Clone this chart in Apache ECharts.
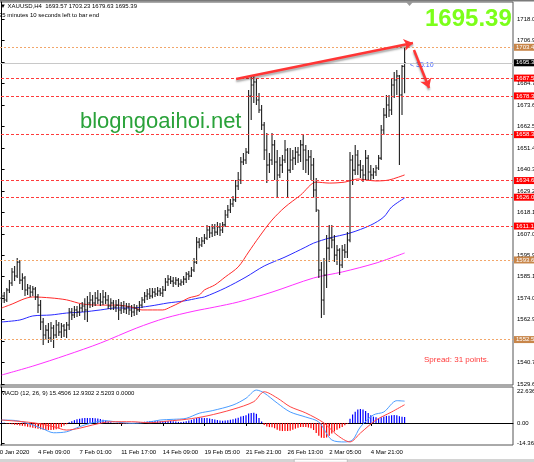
<!DOCTYPE html>
<html><head><meta charset="utf-8">
<script src="https://cdn.jsdelivr.net/npm/echarts@6/dist/echarts.min.js"></script>
<style>html,body{margin:0;padding:0;background:#fff}#c{width:534px;height:462px}</style>
</head><body><div id="c"></div>
<script>
// ---- OHLC bars (XAUUSD H4) ----
const open = [1573.9,1575.0,1572.9,1578.1,1581.7,1587.4,1585.3,1592.5,1583.2,1584.3,
1578.1,1579.1,1577.0,1578.6,1574.5,1570.3,1561.6,1554.9,1557.4,1553.3,
1558.5,1554.9,1560.0,1556.4,1559.5,1557.4,1560.0,1566.7,1565.2,1567.8,
1566.7,1568.8,1569.8,1567.8,1571.4,1572.9,1571.4,1573.9,1572.9,1571.9,
1574.5,1572.9,1569.8,1571.4,1569.3,1570.3,1567.8,1569.8,1568.3,1569.3,
1567.8,1566.7,1568.8,1567.8,1570.3,1572.9,1575.0,1576.0,1575.0,1577.0,
1576.0,1577.6,1576.5,1578.1,1582.2,1583.7,1582.7,1581.7,1583.2,1581.2,
1582.2,1583.7,1586.3,1585.3,1588.4,1592.5,1602.8,1601.3,1603.4,1604.9,
1609.1,1607.5,1610.1,1608.0,1610.6,1609.1,1611.7,1616.8,1619.4,1622.5,
1624.6,1631.8,1634.9,1644.2,1645.2,1649.3,1678.2,1683.9,1685.5,1676.2,
1671.0,1663.3,1650.4,1642.6,1645.2,1653.0,1644.2,1637.5,1642.6,1645.2,
1650.4,1640.0,1645.2,1646.2,1649.3,1647.8,1653.0,1650.4,1645.2,1646.8,
1642.6,1629.7,1619.4,1588.4,1572.9,1585.8,1599.7,1604.9,1603.9,1596.1,
1598.7,1591.0,1598.7,1597.7,1603.9,1645.2,1640.0,1647.8,1642.6,1640.0,
1637.5,1646.2,1639.0,1637.5,1639.0,1641.1,1646.2,1660.7,1668.4,1673.6,
1671.0,1683.9,1686.5,1688.6,1678.8,1693.57];
const high = [1576.5,1577.0,1579.1,1583.2,1589.4,1590.5,1594.6,1593.6,1586.8,1585.3,
1581.2,1580.7,1580.1,1579.6,1576.0,1572.9,1563.6,1560.0,1561.1,1561.6,
1560.0,1562.6,1561.6,1561.1,1560.5,1561.6,1568.8,1568.8,1569.8,1569.8,
1570.9,1571.9,1573.9,1575.0,1577.0,1575.5,1577.0,1578.1,1576.5,1578.1,
1577.0,1575.5,1573.9,1572.9,1572.9,1573.4,1571.9,1572.4,1571.4,1571.4,
1570.3,1570.9,1570.3,1572.4,1574.5,1577.0,1578.6,1579.1,1579.1,1579.1,
1579.6,1579.1,1580.1,1584.3,1585.8,1585.3,1584.8,1584.8,1584.3,1583.7,
1585.3,1587.4,1587.9,1590.0,1594.6,1605.4,1604.9,1605.4,1607.0,1611.7,
1611.2,1612.2,1612.2,1613.2,1612.7,1613.2,1619.4,1622.0,1625.1,1626.6,
1634.9,1639.0,1646.8,1648.8,1651.4,1681.3,1688.1,1689.1,1687.5,1679.8,
1673.6,1664.8,1659.1,1648.8,1659.1,1655.5,1650.4,1646.8,1647.8,1655.5,
1651.4,1651.4,1650.4,1651.9,1651.9,1655.5,1658.1,1653.0,1650.4,1650.4,
1646.2,1635.9,1619.4,1592.5,1594.6,1606.5,1611.7,1611.7,1606.5,1601.3,
1599.7,1601.3,1601.8,1608.0,1649.3,1647.8,1653.0,1650.4,1645.2,1642.6,
1650.4,1647.8,1642.6,1641.1,1642.6,1647.8,1663.3,1672.1,1678.8,1678.8,
1687.5,1690.6,1691.7,1689.1,1694.2,1703.23];
const low = [1571.4,1571.4,1571.9,1576.5,1580.1,1582.7,1584.3,1581.2,1578.1,1575.0,
1575.5,1574.5,1575.0,1572.9,1566.2,1557.4,1549.7,1552.3,1550.7,1551.2,
1548.1,1553.3,1554.3,1553.3,1553.8,1553.3,1557.4,1562.6,1563.6,1564.1,
1564.7,1566.7,1562.6,1561.6,1568.8,1569.3,1569.8,1570.9,1569.8,1570.3,
1570.9,1568.3,1567.8,1567.8,1566.7,1562.6,1565.7,1566.2,1565.7,1565.2,
1564.1,1564.7,1565.2,1566.7,1568.8,1571.4,1572.9,1573.4,1573.9,1574.5,
1575.0,1575.0,1574.5,1577.6,1580.1,1581.2,1579.6,1580.7,1579.6,1580.1,
1580.7,1581.7,1583.2,1584.8,1587.4,1591.5,1599.7,1600.3,1601.8,1603.9,
1604.9,1605.4,1606.0,1606.5,1606.0,1607.5,1610.6,1615.3,1617.8,1620.9,
1623.5,1629.7,1632.8,1642.6,1643.1,1648.3,1665.9,1674.6,1673.6,1669.5,
1660.7,1645.2,1633.3,1638.5,1642.6,1634.9,1626.1,1635.9,1638.5,1643.7,
1626.1,1638.5,1640.0,1642.6,1643.7,1644.2,1640.0,1638.5,1637.5,1634.9,
1625.6,1618.3,1584.3,1563.6,1565.2,1579.1,1592.5,1599.7,1592.5,1591.0,
1585.8,1589.4,1594.6,1594.6,1602.8,1632.3,1637.5,1637.5,1635.9,1633.8,
1634.9,1634.9,1634.9,1635.4,1636.9,1640.0,1645.2,1658.1,1666.9,1667.4,
1668.4,1677.2,1678.8,1642.6,1668.4,1679.63];
const close = [1575.0,1572.9,1578.1,1581.7,1587.4,1585.3,1592.5,1583.2,1584.3,1578.1,
1579.1,1577.0,1578.6,1574.5,1570.3,1561.6,1554.9,1557.4,1553.3,1558.5,
1554.9,1560.0,1556.4,1559.5,1557.4,1560.0,1566.7,1565.2,1567.8,1566.7,
1568.8,1569.8,1567.8,1571.4,1572.9,1571.4,1573.9,1572.9,1571.9,1574.5,
1572.9,1569.8,1571.4,1569.3,1570.3,1567.8,1569.8,1568.3,1569.3,1567.8,
1566.7,1568.8,1567.8,1570.3,1572.9,1575.0,1576.0,1575.0,1577.0,1576.0,
1577.6,1576.5,1578.1,1582.2,1583.7,1582.7,1581.7,1583.2,1581.2,1582.2,
1583.7,1586.3,1585.3,1588.4,1592.5,1602.8,1601.3,1603.4,1604.9,1609.1,
1607.5,1610.1,1608.0,1610.6,1609.1,1611.7,1616.8,1619.4,1622.5,1624.6,
1631.8,1634.9,1644.2,1645.2,1649.3,1678.2,1683.9,1685.5,1676.2,1671.0,
1663.3,1650.4,1642.6,1645.2,1653.0,1644.2,1637.5,1642.6,1645.2,1650.4,
1640.0,1645.2,1646.2,1649.3,1647.8,1653.0,1650.4,1645.2,1646.8,1642.6,
1629.7,1619.4,1588.4,1572.9,1585.8,1599.7,1604.9,1603.9,1596.1,1598.7,
1591.0,1598.7,1597.7,1603.9,1645.2,1640.0,1647.8,1642.6,1640.0,1637.5,
1646.2,1639.0,1637.5,1639.0,1641.1,1646.2,1660.7,1668.4,1673.6,1671.0,
1683.9,1686.5,1688.6,1678.8,1693.57,1695.39];

// ---- moving averages read at sample bars [barIndex, price] ----
const maRed = [[0,1568.8],[3,1570.3],[12,1574.5],[19,1574.0],[25,1573.0],[31,1570.9],[38,1570.3],[44,1570.3],[50,1569.3],[54,1567.8],[58,1567.8],[62,1567.8],[65,1569.3],[69,1571.9],[72,1574.0],[76,1575.5],[78,1578.1],[82,1580.7],[86,1584.8],[91,1590.0],[95,1597.7],[99,1605.4],[104,1614.2],[109,1620.9],[115,1627.1],[121,1633.8],[126,1633.3],[132,1633.8],[137,1635.4],[144,1634.4],[149,1634.9],[155,1637.5]];
const maBlue = [[0,1561.6],[7,1562.6],[12,1564.7],[19,1565.2],[25,1566.2],[31,1566.7],[38,1567.8],[44,1568.8],[50,1568.8],[57,1569.8],[64,1571.4],[70,1572.4],[76,1574.0],[78,1574.5],[86,1579.1],[94,1584.8],[101,1590.5],[109,1595.1],[117,1600.3],[120,1602.3],[126,1604.9],[134,1607.5],[142,1611.6],[147,1615.8],[150,1620.9],[155,1625.6]];
const maMagenta = [[0,1534.2],[12,1538.8],[25,1544.5],[38,1550.7],[52,1558.5],[63,1563.6],[74,1567.2],[82,1569.3],[91,1571.9],[104,1577.0],[120,1584.3],[131,1587.4],[144,1592.0],[155,1597.2]];

// ---- MACD (12,26,9) ----
const macdHist = [0.4,0.2,-0.3,-0.6,-0.9,-1.2,-1.4,-1.7,-2.0,-2.3,
-2.7,-3.0,-3.3,-3.7,-4.0,-4.4,-4.7,-4.9,-5.0,-5.0,
-4.8,-4.4,-3.7,-2.8,-1.8,-0.8,0.5,1.3,2.0,2.6,
3.0,3.3,3.5,3.5,3.6,3.5,3.4,3.2,2.8,2.3,
1.7,1.1,0.5,0.1,-0.2,-0.4,-0.5,-0.5,-0.4,-0.3,
-0.2,0.0,0.2,0.4,0.6,0.9,1.1,1.3,1.4,1.4,
1.3,1.2,1.2,1.4,1.5,1.4,1.2,1.0,0.8,0.7,
0.8,1.2,1.8,2.3,2.8,3.6,3.8,3.7,3.5,3.5,
3.2,2.9,2.5,2.1,1.8,1.6,1.7,2.0,2.3,2.7,
3.2,3.8,4.6,5.0,5.5,6.8,7.0,7.2,6.5,3.5,
1.0,-1.5,-2.5,-2.9,-3.0,-3.8,-4.8,-5.4,-5.7,-5.6,
-5.7,-5.4,-4.8,-4.0,-3.3,-2.9,-2.8,-2.9,-3.2,-3.8,
-5.0,-7.0,-9.0,-10.4,-10.6,-10.2,-9.0,-7.5,-6.0,-4.8,
-3.8,-2.8,-1.6,-0.5,3.0,6.0,8.0,9.5,9.9,9.6,
8.5,7.0,5.5,4.5,4.0,3.6,4.0,4.6,5.0,5.2,
5.5,5.6,5.4,4.8,4.5,4.2];
const macdMain = [[0,2.1],[6,1.6],[12,-1.4],[16,-4.2],[20,-6.9],[25,-6.2],[30,-2.6],[35,0.2],[40,1.6],[45,0.5],[50,-0.2],[56,0.5],[61,2.1],[66,2.6],[71,3.3],[76,6.9],[81,8.7],[89,12.7],[94,17.5],[98,23.3],[101,21.2],[106,14.1],[111,7.8],[117,4.2],[122,0.7],[127,-12.0],[132,-13.4],[135,-12.0],[138,-2.8],[143,5.7],[147,7.8],[152,15.8],[155,15.45]];
const macdSignal = [[0,2.1],[12,0.2],[20,-2.6],[25,-5.0],[30,-3.7],[35,-1.4],[42,0.9],[50,0.9],[57,0.2],[64,1.4],[71,2.6],[79,5.0],[89,9.7],[97,15.1],[101,22.1],[106,17.7],[111,11.5],[117,7.1],[124,0.0],[129,-8.5],[134,-13.4],[138,-7.1],[144,2.1],[150,7.8],[155,12.93]];

// ---- levels, ticks, labels ----
const redLevels = [1687.5, 1678.3, 1658.3, 1634.6, 1626.0, 1611.1];
const orangeLevels = [1703.4, 1593.6, 1552.5];
const lastPrice = 1695.39;
const priceTicks = [1529.6,1540.7,1551.8,1562.9,1574.0,1585.1,1595.9,1607.0,1618.1,1629.2,1640.3,1651.4,1662.5,1673.6,1684.7,1695.8,1706.9,1718.0];
const macdTicks = [-14.367, 0, 22.636];
const macdTickText = ['-14.367', '0.00', '22.636'];
const dateTicks = [-2, 14, 30, 46, 62, 78, 94, 110, 126, 142];
const dateLabels = ['30 Jan 2020','4 Feb 09:00','7 Feb 01:00','11 Feb 17:00','14 Feb 09:00','19 Feb 05:00','21 Feb 21:00','26 Feb 13:00','2 Mar 05:00','4 Mar 21:00'];
// annotation arrows [barIndex, value]
const priceArrowUp = [[90.2, 1687.0], [158.2, 1705.6]];
const priceArrowDown = [[158.6, 1702.0], [164.4, 1682.4]];
const macdArrow = [[94.4, 25.8], [160.5, 15.2]];

const FONT = 'Liberation Sans, Arial, sans-serif';
const XMIN = -2.154, XMAX = 196.69;

const chart = echarts.init(document.getElementById('c'), null, {renderer: 'canvas'});

const ohlcData = open.map((o, i) => [i, o, high[i], low[i], close[i]]);
const histData = macdHist.map((v, i) => [i, v]);

function ohlcItem(params, api) {
  const x = api.value(0);
  const po = api.coord([x, api.value(1)]);
  const ph = api.coord([x, api.value(2)]);
  const pl = api.coord([x, api.value(3)]);
  const pc = api.coord([x, api.value(4)]);
  const st = {stroke: '#1e1e1e', lineWidth: 1.1};
  return {type: 'group', children: [
    {type: 'line', shape: {x1: ph[0], y1: ph[1], x2: pl[0], y2: pl[1]}, style: st},
    {type: 'line', shape: {x1: po[0] - 1.2, y1: po[1], x2: po[0], y2: po[1]}, style: st},
    {type: 'line', shape: {x1: pc[0], y1: pc[1], x2: pc[0] + 1.2, y2: pc[1]}, style: st}
  ]};
}
function histItem(params, api) {
  const x = api.value(0), v = api.value(1);
  const p0 = api.coord([x, 0]), p1 = api.coord([x, v]);
  return {type: 'rect', shape: {x: p0[0] - 0.6, y: Math.min(p0[1], p1[1]), width: 1.2, height: Math.abs(p1[1] - p0[1])},
    style: {fill: v >= 0 ? '#0000ff' : '#ff0000'}};
}
function levelLine(v, color, dash, bg) {
  return {yAxis: v, lineStyle: {color: color, type: dash, width: 1},
    label: {show: true, position: 'end', distance: 1, formatter: v.toFixed(1), color: '#fff', backgroundColor: bg,
      fontSize: 6, fontFamily: FONT, padding: [1, 3, 0, 2]}};
}
const arrowStyle = {color: '#ff3535', width: 2.5, type: 'solid', shadowColor: 'rgba(0,0,0,0.35)', shadowBlur: 2, shadowOffsetY: 2};

const option = {
  animation: false,
  backgroundColor: '#ffffff',
  grid: [
    {left: -4, top: 2, width: 517, height: 383, show: true, borderColor: '#555', borderWidth: 1, outerBoundsMode: 'none', containLabel: false},
    {left: -4, top: 387, width: 517, height: 58, show: true, borderColor: '#555', borderWidth: 1, outerBoundsMode: 'none', containLabel: false}
  ],
  xAxis: [
    {gridIndex: 0, type: 'value', min: XMIN, max: XMAX, show: false},
    {gridIndex: 1, type: 'value', min: XMIN, max: XMAX, splitLine: {show: false},
      axisLine: {show: true, lineStyle: {color: '#000'}},
      axisTick: {show: true, customValues: dateTicks, length: 3, lineStyle: {color: '#000'}},
      axisLabel: {show: true, customValues: dateTicks, align: 'left', margin: 4, fontSize: 6, color: '#000', fontFamily: FONT,
        showMinLabel: true, showMaxLabel: true,
        formatter: v => { const k = dateTicks.findIndex(t => Math.abs(t - v) < 0.01); return k >= 0 ? dateLabels[k] : ''; }}}
  ],
  yAxis: [
    {gridIndex: 0, type: 'value', position: 'right', min: 1529.05, max: 1726.78, splitLine: {show: false},
      axisLine: {show: true, lineStyle: {color: '#000'}},
      axisTick: {show: true, customValues: priceTicks, length: 3, lineStyle: {color: '#000'}},
      axisLabel: {customValues: priceTicks, margin: 4, fontSize: 6, color: '#000', fontFamily: FONT,
        showMinLabel: true, showMaxLabel: true, hideOverlap: false, formatter: v => v.toFixed(1)}},
    {gridIndex: 1, type: 'value', position: 'right', min: -15.56, max: 25.46, splitLine: {show: false},
      axisLine: {show: true, lineStyle: {color: '#000'}},
      axisTick: {show: true, customValues: macdTicks, length: 3, lineStyle: {color: '#000'}},
      axisLabel: {customValues: macdTicks, margin: 4, fontSize: 6, color: '#000', fontFamily: FONT,
        showMinLabel: true, showMaxLabel: true,
        formatter: v => { const k = macdTicks.findIndex(t => Math.abs(t - v) < 0.001); return k >= 0 ? macdTickText[k] : ''; }}}
  ],
  series: [
    {type: 'line', xAxisIndex: 0, yAxisIndex: 0, data: maMagenta, symbol: 'none', smooth: 0.3, silent: true,
      lineStyle: {color: '#ff30ff', width: 1}, z: 2,
      markLine: {silent: true, symbol: ['none', 'none'], animation: false,
        data: redLevels.map(v => levelLine(v, '#ff3b3b', [3, 2], '#ff0000'))
          .concat(orangeLevels.map(v => levelLine(v, '#f2a66a', [2, 2], '#c8864a')))}},
    {type: 'line', xAxisIndex: 0, yAxisIndex: 0, data: maBlue, symbol: 'none', smooth: 0.3, silent: true,
      lineStyle: {color: '#2a2aff', width: 1}, z: 2,
      markLine: {silent: true, symbol: ['none', 'none'], animation: false,
        data: [{yAxis: lastPrice, lineStyle: {color: '#c8c8c8', type: 'solid', width: 1},
          label: {show: true, position: 'end', distance: 1, formatter: lastPrice.toFixed(2), color: '#fff', backgroundColor: '#000',
            fontSize: 6, fontFamily: FONT, padding: [1, 3, 0, 2]}}]}},
    {type: 'line', xAxisIndex: 0, yAxisIndex: 0, data: maRed, symbol: 'none', smooth: 0.3, silent: true,
      lineStyle: {color: '#ff2a2a', width: 1}, z: 2},
    {type: 'custom', xAxisIndex: 0, yAxisIndex: 0, data: ohlcData, renderItem: ohlcItem, silent: true, z: 3,
      encode: {x: 0, y: [1, 2, 3, 4]},
      markLine: {silent: true, symbol: ['none', 'arrow'], symbolSize: 9, animation: false, z: 10,
        lineStyle: arrowStyle, label: {show: false},
        data: [
          [{coord: priceArrowUp[0]}, {coord: priceArrowUp[1]}],
          [{coord: priceArrowDown[0]}, {coord: priceArrowDown[1]}]
        ]}},
    {type: 'custom', xAxisIndex: 1, yAxisIndex: 1, data: histData, renderItem: histItem, silent: true, z: 2,
      encode: {x: 0, y: 1}},
    {type: 'line', xAxisIndex: 1, yAxisIndex: 1, data: macdMain, symbol: 'none', smooth: 0.3, silent: true,
      lineStyle: {color: '#4a9cff', width: 1}, z: 3},
    {type: 'line', xAxisIndex: 1, yAxisIndex: 1, data: macdSignal, symbol: 'none', smooth: 0.3, silent: true,
      lineStyle: {color: '#ff4444', width: 1}, z: 3,
      markLine: {silent: true, symbol: ['none', 'arrow'], symbolSize: 9, animation: false,
        lineStyle: arrowStyle, label: {show: false},
        data: [[{coord: macdArrow[0]}, {coord: macdArrow[1]}]]}}
  ],
  graphic: [
    {type: 'rect', left: 0, top: 0, shape: {width: 534, height: 1.5}, style: {fill: '#7a7a7a'}, silent: true},
    {type: 'polygon', shape: {points: [[406, 2], [413, 2], [409.5, 6]]}, style: {fill: '#9a9a9a'}, silent: true},
    {type: 'text', left: 0, top: 3, style: {text: '\u25BC XAUUSD,H4  1693.57 1703.23 1679.63 1695.39', fill: '#000', font: '6px ' + FONT}},
    {type: 'text', left: -1, top: 12, style: {text: '35 minutes 10 seconds left to bar end', fill: '#000', font: '6px ' + FONT}},
    {type: 'text', left: 425, top: 7, z: -1, style: {text: '1695.39', fill: '#7cff1a', font: 'bold 24px ' + FONT}},
    {type: 'text', left: 80, top: 111, style: {text: 'blogngoaihoi.net', fill: '#2aa23a', font: '22px ' + FONT}},
    {type: 'text', left: 410, top: 62, style: {text: '< 35:10', fill: '#3b5bff', font: '7px ' + FONT}},
    {type: 'text', left: 424, top: 356, style: {text: 'Spread: 31 points.', fill: '#ff3a3a', font: '8px ' + FONT}},
    {type: 'text', left: 1, top: 390, style: {text: 'MACD (12, 26, 9) 15.4506 12.9302 2.5203 0.0000', fill: '#000', font: '6px ' + FONT}},
    {type: 'rect', left: 0, top: 459, shape: {width: 534, height: 3}, style: {fill: '#d4d4d4'}, silent: true},
    {type: 'rect', left: 294, top: 459, shape: {width: 53, height: 3}, style: {fill: '#fff', stroke: '#999', lineWidth: 0.5}, silent: true}
  ]
};
chart.setOption(option);
</script>
</body></html>
